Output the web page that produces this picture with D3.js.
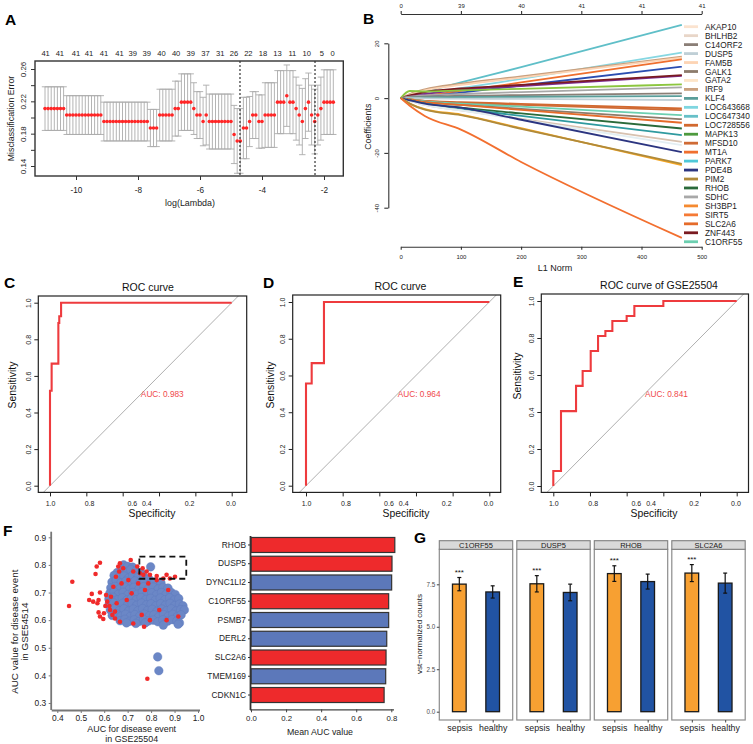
<!DOCTYPE html>
<html><head><meta charset="utf-8">
<script src="https://cdn.jsdelivr.net/npm/d3@7"></script>
<style>
body{margin:0;background:#fff;}
svg{display:block;font-family:"Liberation Sans",Arial,Helvetica,sans-serif;}
</style></head><body>
<svg id="fig" width="753" height="744"></svg>
<script>
// ---------------- DATA ----------------
// Panel A: cross-validation curve
const aLogLambda = [-11.0,-10.9,-10.8,-10.7,-10.6,-10.5,-10.4,-10.3,-10.2,-10.1,-10.0,-9.9,-9.8,-9.7,-9.6,-9.5,-9.4,-9.3,-9.2,-9.1,-9.0,-8.9,-8.8,-8.7,-8.6,-8.5,-8.4,-8.3,-8.2,-8.1,-8.0,-7.9,-7.8,-7.7,-7.6,-7.5,-7.4,-7.3,-7.2,-7.1,-7.0,-6.9,-6.8,-6.7,-6.6,-6.5,-6.4,-6.3,-6.2,-6.1,-6.0,-5.9,-5.8,-5.7,-5.6,-5.5,-5.4,-5.3,-5.2,-5.1,-5.0,-4.9,-4.8,-4.7,-4.6,-4.5,-4.4,-4.3,-4.2,-4.1,-4.0,-3.9,-3.8,-3.7,-3.6,-3.5,-3.4,-3.3,-3.2,-3.1,-3.0,-2.9,-2.8,-2.7,-2.6,-2.5,-2.4,-2.3,-2.2,-2.1,-2.0,-1.9,-1.8,-1.7];
const aCvm = [0.211,0.211,0.211,0.211,0.211,0.211,0.211,
 0.203,0.203,0.203,0.203,0.203,0.203,0.203,0.203,0.203,0.203,0.203,0.203,
 0.195,0.195,0.195,0.195,0.195,0.195,0.195,0.195,0.195,0.195,0.195,0.195,0.195,0.195,0.195,
 0.187,0.187,0.187,
 0.203,0.203,0.203,0.203,0.203,
 0.211,0.211,
 0.219,0.219,0.219,0.219,
 0.211,0.203,0.203,0.195,0.203,
 0.195,0.195,0.195,0.195,0.195,0.195,0.195,0.195,
 0.179,0.171,0.171,0.187,0.187,0.195,0.203,0.203,0.195,0.195,
 0.203,0.203,0.203,0.203,
 0.219,0.219,0.219,0.227,0.219,0.219,
 0.211,0.203,0.195,0.211,0.219,0.203,0.195,0.203,0.211,
 0.219,0.219,0.219,0.219];
const aCvsd = [0.027,0.027,0.027,0.027,0.027,0.027,0.027,
 0.024,0.024,0.024,0.024,0.024,0.024,0.024,0.024,0.024,0.024,0.024,0.024,
 0.024,0.024,0.024,0.024,0.024,0.024,0.024,0.024,0.024,0.024,0.024,0.024,0.024,0.024,0.024,
 0.023,0.023,0.023,
 0.032,0.032,0.032,0.032,0.032,
 0.034,0.034,
 0.035,0.035,0.035,0.035,
 0.032,0.029,0.029,0.030,0.037,
 0.034,0.034,0.034,0.034,0.034,0.034,0.034,0.034,
 0.036,0.040,0.040,0.038,0.038,0.031,0.029,0.029,0.033,0.033,
 0.040,0.040,0.040,0.040,
 0.039,0.039,0.039,0.038,0.039,0.039,
 0.039,0.037,0.041,0.037,0.036,0.037,0.040,0.037,0.039,
 0.040,0.040,0.040,0.040];
const aTopLabels = ["41","41","41","41","41","41","39","39","40","40","39","37","31","26","22","18","13","11","10","5","0"];
const aTopAt = [-10.98,-10.52,-10.0,-9.58,-9.1,-8.6,-8.17,-7.72,-7.24,-6.77,-6.3,-5.82,-5.35,-4.9,-4.44,-3.97,-3.5,-3.02,-2.56,-2.07,-1.72];
const aLambdaLines = [-4.71, -2.29];
const aXTicks = [-10,-8,-6,-4,-2];
const aYTicks = [0.14,0.16,0.18,0.20,0.22,0.24,0.26];
const aYLabels = [0.14,0.18,0.22,0.26];

// Panel B: coefficient paths
const bL1Knots = [0, 15, 40, 100, 200, 467];
const bPathColors = ["#5fbfc8","#86d7e2","#c9a07e","#fdd4b4","#ef6f2e","#2b4db0","#7c2b8e","#7a1a20","#8cc63f","#a8a8a8","#8a7e76","#5a9e9a","#bfcfd6","#d2692f","#cf6b35","#6ccfb0","#8c7b6b","#e56b2a","#2a6a3a","#2f9a9f","#d8c2b0","#e3eef2","#2c3580","#f5a623","#b08a3a","#f26f2f"];
const bPathValues = [
 [0, 0.9, 2.3, 5.7, 11.3, 26.7],
 [0, 0.6, 1.4, 3.6, 7.0, 16.6],
 [0, 1.5, 3.2, 5.3, 7.9, 15.1],
 [0, 1.2, 2.8, 4.8, 7.5, 14.8],
 [0, 0.3, 0.9, 2.6, 5.7, 14.2],
 [0, 0.2, 0.6, 2.0, 4.6, 11.5],
 [0, 0.6, 1.5, 3.0, 4.4, 8.1],
 [0, 1.0, 2.2, 3.5, 4.8, 8.4],
 [0, 2.6, 2.4, 2.8, 3.4, 5.0],
 [0, 0.5, 1.0, 1.5, 2.2, 3.9],
 [0, 0.3, 0.5, 0.8, 1.1, 1.7],
 [0, 0.2, 0.3, 0.4, 0.5, 0.7],
 [0, 0.0, -0.1, -0.2, -0.3, -0.7],
 [0, -0.5, -1.0, -1.5, -2.1, -3.8],
 [0, -0.5, -1.0, -1.8, -2.5, -4.4],
 [0, -0.5, -1.2, -2.0, -3.1, -6.2],
 [0, -0.6, -1.5, -2.5, -3.9, -7.7],
 [0, -0.5, -1.5, -2.5, -4.3, -9.0],
 [0, -0.8, -2.0, -3.5, -5.6, -11.1],
 [0, -0.8, -2.0, -3.8, -6.5, -13.5],
 [0, -1.0, -2.5, -4.5, -7.6, -16.0],
 [0, -1.0, -2.5, -4.5, -7.9, -17.2],
 [0, -0.8, -2.0, -3.5, -7.9, -19.7],
 [0, -2.0, -4.0, -6.0, -11.0, -24.5],
 [0, -2.0, -4.2, -6.2, -11.2, -24.0],
 [0, -2.8, -6.5, -11.5, -23.3, -51.0]
];
const bLegendGenes = ["AKAP10","BHLHB2","C14ORF2","DUSP5","FAM5B","GALK1","GATA2","IRF9","KLF4","LOC643668","LOC647340","LOC728556","MAPK13","MFSD10","MT1A","PARK7","PDE4B","PIM2","RHOB","SDHC","SH3BP1","SIRT5","SLC2A6","ZNF443","C1ORF55"];
const bLegendColors = ["#fbe3cf","#e8d6c8","#8a7e76","#bfcfd6","#fdd4b4","#8c7b6b","#fde5c8","#c9a07e","#5a9e9a","#7fd6e0","#67c0c8","#d2692f","#4e9a3e","#cf6b35","#f07030","#4fc8d8","#2c3580","#b08a3a","#2a6a3a","#a8a8a8","#f58a30","#f57a35","#e56b2a","#7a1a20","#6ccfb0"];
const bXTicks = [0,100,200,300,400,500];
const bTopLabels = ["0","39","40","41","41","41"];
const bYTicks = [20,0,-20,-40];

// Panels C, D, E: ROC curves (specificity, sensitivity)
const rocC = [[1,0],[1,0.519],[0.991,0.519],[0.991,0.667],[0.954,0.667],[0.954,0.889],[0.949,0.889],[0.949,0.926],[0.939,0.926],[0.939,1],[0,1]];
const rocD = [[1,0],[1,0.556],[0.969,0.556],[0.969,0.667],[0.902,0.667],[0.902,1],[0,1]];
const rocE = [[1,0],[1,0.081],[0.958,0.081],[0.958,0.405],[0.876,0.405],[0.876,0.541],[0.84,0.541],[0.84,0.622],[0.796,0.622],[0.796,0.730],[0.756,0.730],[0.756,0.811],[0.716,0.811],[0.716,0.838],[0.678,0.838],[0.678,0.892],[0.600,0.892],[0.600,0.919],[0.558,0.919],[0.558,0.973],[0.40,0.973],[0.40,1],[0,1]];
const rocAUC = ["AUC: 0.983","AUC: 0.964","AUC: 0.841"];
const rocTitles = ["ROC curve","ROC curve","ROC curve of GSE25504"];
const rocTicks = [1.0,0.8,0.6,0.4,0.2,0.0];
const rocTickLabelAt = [1.0,0.785,0.55,0.47,0.235,0.007];

// Panel F left: scatter of AUCs (GSE25504, GSE54514)
const fBlue = [[0.683,0.800],[0.700,0.795],[0.721,0.792],[0.798,0.793],
 [0.655,0.772],[0.676,0.781],[0.695,0.776],[0.713,0.783],[0.735,0.778],[0.757,0.772],
 [0.642,0.762],[0.662,0.755],[0.684,0.760],[0.703,0.752],[0.722,0.763],[0.744,0.755],[0.768,0.758],[0.790,0.750],
 [0.633,0.738],[0.651,0.744],[0.671,0.735],[0.692,0.741],[0.711,0.733],[0.731,0.742],[0.752,0.736],[0.773,0.740],[0.795,0.732],[0.815,0.738],[0.842,0.735],
 [0.628,0.717],[0.647,0.722],[0.667,0.714],[0.688,0.720],[0.707,0.712],[0.727,0.719],[0.748,0.713],[0.769,0.721],[0.789,0.714],[0.809,0.720],[0.830,0.713],[0.851,0.719],[0.872,0.716],
 [0.624,0.697],[0.642,0.703],[0.661,0.694],[0.681,0.701],[0.702,0.693],[0.722,0.700],[0.742,0.694],[0.762,0.702],[0.783,0.695],[0.803,0.699],[0.823,0.692],[0.844,0.700],[0.864,0.694],[0.885,0.701],[0.903,0.693],
 [0.620,0.677],[0.638,0.683],[0.657,0.674],[0.677,0.681],[0.697,0.673],[0.717,0.680],[0.737,0.674],[0.757,0.682],[0.778,0.675],[0.798,0.679],[0.818,0.672],[0.839,0.680],[0.859,0.674],[0.879,0.681],[0.899,0.673],[0.918,0.678],
 [0.621,0.657],[0.640,0.663],[0.659,0.654],[0.679,0.661],[0.699,0.653],[0.719,0.660],[0.739,0.654],[0.759,0.662],[0.780,0.655],[0.800,0.659],[0.820,0.652],[0.841,0.660],[0.861,0.654],[0.881,0.661],[0.901,0.653],[0.921,0.658],[0.936,0.652],
 [0.626,0.637],[0.645,0.643],[0.664,0.634],[0.684,0.641],[0.704,0.633],[0.724,0.640],[0.744,0.634],[0.764,0.642],[0.785,0.635],[0.805,0.639],[0.825,0.632],[0.846,0.640],[0.866,0.634],[0.886,0.641],[0.906,0.633],[0.926,0.638],[0.942,0.637],
 [0.634,0.617],[0.652,0.623],[0.671,0.614],[0.691,0.621],[0.711,0.613],[0.731,0.620],[0.751,0.614],[0.771,0.622],[0.792,0.615],[0.812,0.619],[0.832,0.612],[0.853,0.620],[0.873,0.614],[0.893,0.621],[0.912,0.613],[0.928,0.619],
 [0.668,0.598],[0.688,0.603],[0.708,0.596],[0.728,0.601],[0.748,0.595],[0.768,0.602],[0.789,0.597],[0.809,0.600],[0.829,0.594],[0.850,0.601],[0.870,0.596],[0.890,0.602],[0.910,0.597],[0.921,0.590],
 [0.695,0.590],[0.735,0.588],[0.775,0.590],[0.852,0.582],[0.915,0.585],
 [0.828,0.467],[0.833,0.417]];
const fRed = [[0.450,0.651],[0.464,0.739],[0.536,0.673],[0.553,0.667],[0.547,0.695],[0.563,0.767],[0.568,0.794],[0.582,0.808],[0.582,0.700],[0.576,0.673],[0.571,0.661],[0.576,0.628],[0.582,0.613],[0.596,0.604],[0.599,0.625],[0.605,0.651],[0.608,0.691],[0.613,0.667],[0.622,0.651],[0.625,0.637],[0.629,0.685],[0.639,0.721],[0.635,0.619],[0.646,0.631],[0.650,0.757],[0.660,0.794],[0.667,0.806],[0.664,0.776],[0.681,0.788],[0.713,0.818],[0.724,0.776],[0.741,0.794],[0.753,0.770],[0.764,0.788],[0.767,0.764],[0.781,0.776],[0.795,0.764],[0.824,0.760],[0.852,0.751],[0.866,0.764],[0.880,0.751],[0.902,0.757],[0.824,0.745],[0.784,0.388],[0.770,0.576],[0.724,0.588],[0.667,0.594],[0.696,0.673],[0.717,0.697],[0.774,0.709],[0.835,0.637],[0.873,0.709],[0.916,0.613],[0.795,0.600],[0.866,0.600],[0.674,0.733],[0.703,0.745],[0.745,0.733],[0.788,0.733],[0.653,0.661],[0.760,0.619],[0.646,0.606]];
const fBoxX = [0.75, 0.95];
const fBoxY = [0.75, 0.83];
const fXTicks = [0.4,0.5,0.6,0.7,0.8,0.9,1.0];
const fYTicks = [0.3,0.4,0.5,0.6,0.7,0.8,0.9];

// Panel F right: mean AUC bars
const fBarGenes = ["RHOB","DUSP5","DYNC1LI2","C1ORF55","PSMB7","DERL2","SLC2A6","TMEM169","CDKN1C"];
const fBarValues = [0.820,0.804,0.802,0.785,0.785,0.774,0.770,0.768,0.759];
const fBarGroup = ["red","red","blue","red","blue","blue","red","blue","red"];
const fBarTicks = [0.0,0.2,0.4,0.6,0.8];

// Panel G: expression bars
const gGenes = ["C1ORF55","DUSP5","RHOB","SLC2A6"];
const gGroups = ["sepsis","healthy"];
const gSepsisMean = [7.51,7.53,8.13,8.16];
const gSepsisSd = [0.39,0.48,0.46,0.50];
const gHealthyMean = [7.05,7.02,7.66,7.57];
const gHealthySd = [0.36,0.49,0.44,0.59];
const gSignif = ["***","***","***","***"];
const gYTicks = [0,2.5,5,7.5];

// ---------------- DRAWING ----------------
const FONT = '"Liberation Sans", Arial, Helvetica, sans-serif';
const svg = d3.select("#fig");

function T(x, y, s, size, o = {}) {
  const t = svg.append("text").attr("x", x).attr("y", y).text(s)
    .attr("font-size", size).attr("fill", o.fill || "#000")
    .attr("text-anchor", o.anchor || "middle");
  if (o.bold) t.attr("font-weight", "bold");
  if (o.rot) t.attr("transform", `rotate(${o.rot},${x},${y})`);
  return t;
}
function styleAxis(g, size, textColor, lineColor, lw) {
  g.attr("font-family", FONT).attr("font-size", size);
  g.selectAll(".tick line").attr("stroke", lineColor).attr("stroke-width", lw || 1);
  g.selectAll(".tick text").attr("fill", textColor);
  g.select(".domain").attr("stroke", lineColor).attr("stroke-width", lw || 1);
}
function rotLabels(g, off) {
  g.selectAll(".tick text").attr("transform", "rotate(-90)")
    .attr("x", 0).attr("y", off).attr("dy", 0).attr("text-anchor", "middle");
}

// Panel letters
[["A",5,25],["B",363,24],["C",4,288],["D",263,288],["E",513,287],["F",3,536],["G",414,543]]
  .forEach(([s,x,y]) => T(x, y, s, 15.5, {bold: true, anchor: "start"}));

// ===== Panel A =====
{
  const X = d3.scaleLinear().domain([-10, -2]).range([76, 324]);
  const Y = d3.scaleLinear().domain([0.26, 0.14]).range([69, 166]);
  const box = {x0: 35, x1: 343.3, y0: 61, y1: 176};
  const g = svg.append("g");
  aLogLambda.forEach((l, i) => {
    const x = X(l), yt = Y(aCvm[i] + aCvsd[i]), yb = Y(aCvm[i] - aCvsd[i]);
    g.append("line").attr("x1", x).attr("x2", x).attr("y1", yt).attr("y2", yb).attr("stroke", "#ababab").attr("stroke-width", 0.9);
    [yt, yb].forEach(yy => g.append("line").attr("x1", x - 3.2).attr("x2", x + 3.2).attr("y1", yy).attr("y2", yy).attr("stroke", "#ababab").attr("stroke-width", 0.9));
  });
  g.selectAll("circle").data(aLogLambda).join("circle")
    .attr("cx", d => X(d)).attr("cy", (d, i) => Y(aCvm[i])).attr("r", 1.8).attr("fill", "#ff2626");
  aLambdaLines.forEach(v => g.append("line").attr("x1", X(v)).attr("x2", X(v)).attr("y1", box.y0).attr("y2", box.y1)
    .attr("stroke", "#222").attr("stroke-width", 1.1).attr("stroke-dasharray", "2,2"));
  g.append("rect").attr("x", box.x0).attr("y", box.y0).attr("width", box.x1 - box.x0).attr("height", box.y1 - box.y0)
    .attr("fill", "none").attr("stroke", "#333").attr("stroke-width", 1.4);
  const xa = svg.append("g").attr("transform", `translate(0,${box.y1})`)
    .call(d3.axisBottom(X).tickValues(aXTicks).tickSize(4).tickPadding(7.5).tickFormat(d => String(d)));
  xa.select(".domain").remove();
  styleAxis(xa, 8.2, "#222", "#333");
  const ya = svg.append("g").attr("transform", `translate(${box.x0},0)`)
    .call(d3.axisLeft(Y).tickValues(aYTicks).tickSize(4).tickFormat(d => aYLabels.some(v => Math.abs(v - d) < 1e-9) ? d.toFixed(2) : ""));
  ya.select(".domain").remove();
  styleAxis(ya, 8, "#222", "#333");
  rotLabels(ya, -8.8);
  aTopLabels.forEach((s, i) => T(X(aTopAt[i]), 55.5, s, 7.6, {fill: "#222"}));
  T(190, 206, "log(Lambda)", 8.9, {fill: "#222"});
  T(13.5, 118.5, "Misclassification Error", 8.8, {rot: -90, fill: "#222"});
}

// ===== Panel B =====
{
  const X = d3.scaleLinear().domain([0, 500]).range([400.7, 701.7]);
  const Y = d3.scaleLinear().domain([-40, 20]).range([207.7, 43.3]);
  const g = svg.append("g");
  const line = d3.line().x((d, i) => X(bL1Knots[i])).y(d => Y(d)).curve(d3.curveMonotoneX);
  bPathValues.forEach((vals, k) => g.append("path").attr("d", line(vals)).attr("fill", "none")
    .attr("stroke", bPathColors[k]).attr("stroke-width", 1.8));
  const xb = svg.append("g").attr("transform", "translate(0,246.7)")
    .call(d3.axisBottom(X).tickValues(bXTicks).tickSize(3).tickSizeOuter(0).tickPadding(4.8));
  styleAxis(xb, 6, "#222", "#333", 1.1);
  const xt = svg.append("g").attr("transform", "translate(0,14)")
    .call(d3.axisTop(X).tickValues(bXTicks).tickSize(3).tickSizeOuter(0).tickPadding(2.8).tickFormat((d, i) => bTopLabels[i]));
  styleAxis(xt, 6, "#222", "#333", 1.1);
  const yl = svg.append("g").attr("transform", "translate(388.3,0)")
    .call(d3.axisLeft(Y).tickValues(bYTicks).tickSize(4).tickSizeOuter(0).tickFormat(d => String(d)));
  styleAxis(yl, 6, "#222", "#333", 1.1);
  rotLabels(yl, -9);
  T(555, 271, "L1 Norm", 9, {fill: "#222"});
  T(371.5, 126.7, "Coefficients", 8.9, {rot: -90, fill: "#222"});
  const lg = svg.append("g");
  bLegendGenes.forEach((s, i) => {
    const y = 26.7 + i * 8.96;
    lg.append("line").attr("x1", 684).attr("x2", 698).attr("y1", y).attr("y2", y)
      .attr("stroke", bLegendColors[i]).attr("stroke-width", 2.8);
    lg.append("text").attr("x", 705).attr("y", y + 3).attr("font-size", 8.3).attr("fill", "#222").text(s);
  });
}

// ===== Panels C, D, E =====
function drawROC(cfg, pts, idx) {
  const X = d3.scaleLinear().domain([1, 0]).range([cfg.sx0, cfg.sx1]);
  const Y = d3.scaleLinear().domain([0, 1]).range([cfg.sy0, cfg.sy1]);
  const id = "clipRoc" + idx;
  svg.append("clipPath").attr("id", id).append("rect")
    .attr("x", cfg.bx0).attr("y", cfg.by0).attr("width", cfg.bx1 - cfg.bx0).attr("height", cfg.by1 - cfg.by0);
  const g = svg.append("g");
  g.append("line").attr("clip-path", `url(#${id})`)
    .attr("x1", X(1.2)).attr("y1", Y(-0.2)).attr("x2", X(-0.2)).attr("y2", Y(1.2))
    .attr("stroke", "#9a9a9a").attr("stroke-width", 0.8);
  g.append("path").datum(pts).attr("d", d3.line().x(d => X(d[0])).y(d => Y(d[1])))
    .attr("fill", "none").attr("stroke", "#ee3b3e").attr("stroke-width", 2.1);
  g.append("rect").attr("x", cfg.bx0).attr("y", cfg.by0).attr("width", cfg.bx1 - cfg.bx0).attr("height", cfg.by1 - cfg.by0)
    .attr("fill", "none").attr("stroke", "#222").attr("stroke-width", 1.2);
  const xa = svg.append("g").attr("transform", `translate(0,${cfg.by1})`)
    .call(d3.axisBottom(X).tickValues(rocTicks).tickSize(4).tickPadding(4.3).tickFormat(d => d.toFixed(1)));
  xa.select(".domain").remove();
  styleAxis(xa, 7, "#222", "#222");
  xa.selectAll(".tick text").attr("dx", (d, i) => X(rocTickLabelAt[i]) - X(d));
  const ya = svg.append("g").attr("transform", `translate(${cfg.bx0},0)`)
    .call(d3.axisLeft(Y).tickValues([0, 0.2, 0.4, 0.6, 0.8, 1.0]).tickSize(4).tickFormat(d => d.toFixed(1)));
  ya.select(".domain").remove();
  styleAxis(ya, 7, "#222", "#222");
  rotLabels(ya, -7.5);
  T(cfg.titleX, cfg.titleY, rocTitles[idx], 10.5, {fill: "#111"});
  T(cfg.specX, 517, "Specificity", 10.4, {fill: "#111"});
  T(cfg.sensX, cfg.sensY, "Sensitivity", 10.4, {rot: -90, fill: "#111"});
  T(X(0.5), Y(0.5), rocAUC[idx], 8.3, {anchor: "start", fill: "#f0494b"}).attr("dominant-baseline", "central");
}
drawROC({bx0: 38.3, bx1: 246.7, by0: 296, by1: 492.4, sx0: 50, sx1: 231.7, sy0: 485.7, sy1: 302.7,
  titleX: 148, titleY: 290.5, specX: 152, sensX: 15.5, sensY: 385}, rocC, 0);
drawROC({bx0: 292.7, bx1: 500.7, by0: 295, by1: 492.4, sx0: 306, sx1: 489.3, sy0: 485.7, sy1: 302,
  titleX: 400.5, titleY: 290, specX: 406, sensX: 273.5, sensY: 385}, rocD, 1);
drawROC({bx0: 541.3, bx1: 748.5, by0: 294, by1: 492.4, sx0: 553.3, sx1: 736.7, sy0: 486, sy1: 301,
  titleX: 659, titleY: 289, specX: 654, sensX: 520.5, sensY: 376}, rocE, 2);

// ===== Panel F left (scatter) =====
{
  const X = d3.scaleLinear().domain([0.4, 1.0]).range([57.3, 198]);
  const Y = d3.scaleLinear().domain([0.3, 0.9]).range([703, 537.3]);
  const g = svg.append("g");
  g.selectAll("circle.b").data(fBlue).join("circle").attr("class", "b")
    .attr("cx", d => X(d[0])).attr("cy", d => Y(d[1])).attr("r", 4.3)
    .attr("fill", "#6b87c6").attr("stroke", "#5d7abd").attr("stroke-width", 0.4);
  g.selectAll("circle.r").data(fRed).join("circle").attr("class", "r")
    .attr("cx", d => X(d[0])).attr("cy", d => Y(d[1])).attr("r", 2.3).attr("fill", "#f02a2a");
  g.append("rect").attr("x", X(fBoxX[0])).attr("y", Y(fBoxY[1])).attr("width", X(fBoxX[1]) - X(fBoxX[0]))
    .attr("height", Y(fBoxY[0]) - Y(fBoxY[1])).attr("fill", "none").attr("stroke", "#111")
    .attr("stroke-width", 1.8).attr("stroke-dasharray", "6,4");
  const xa = svg.append("g").attr("transform", "translate(0,710)")
    .call(d3.axisBottom(X).tickValues(fXTicks).tickSize(3).tickPadding(2.3).tickSizeOuter(0).tickFormat(d3.format(".1f")));
  xa.select(".domain").attr("d", "M51.7,0.5H200");
  styleAxis(xa, 8.4, "#222", "#777", 1.8);
  xa.selectAll(".tick line").attr("stroke-width", 1);
  const ya = svg.append("g").attr("transform", "translate(51.7,0)")
    .call(d3.axisLeft(Y).tickValues(fYTicks).tickSize(3).tickPadding(2.5).tickSizeOuter(0).tickFormat(d3.format(".1f")));
  ya.select(".domain").attr("d", "M-0.5,531.7V710");
  styleAxis(ya, 8.4, "#222", "#777", 1.8);
  ya.selectAll(".tick line").attr("stroke-width", 1);
  T(131.7, 731.5, "AUC for disease event", 8.9, {fill: "#222"});
  T(131.7, 741.5, "in GSE25504", 8.9, {fill: "#222"});
  T(18.5, 631.7, "AUC value for disease event", 9.8, {rot: -90, fill: "#222"});
  T(28.5, 631.7, "in GSE54514", 9.8, {rot: -90, fill: "#222"});
}

// ===== Panel F right (bars) =====
{
  const X = d3.scaleLinear().domain([0, 0.8]).range([251, 391.3]);
  const Y = d3.scaleBand().domain(fBarGenes).range([535.6, 704.4]).paddingInner(0.2).paddingOuter(0.1);
  const g = svg.append("g");
  g.selectAll("rect").data(fBarGenes).join("rect")
    .attr("x", X(0)).attr("y", d => Y(d)).attr("height", Y.bandwidth())
    .attr("width", (d, i) => X(fBarValues[i]) - X(0))
    .attr("fill", (d, i) => fBarGroup[i] === "red" ? "#ee2a2c" : "#5c78ba")
    .attr("stroke", "#333").attr("stroke-width", 1.2);
  const ya = svg.append("g").attr("transform", "translate(251,0)")
    .call(d3.axisLeft(Y).tickSize(3).tickPadding(2).tickSizeOuter(0));
  ya.select(".domain").attr("d", "M-0.5,536V710");
  styleAxis(ya, 8.4, "#222", "#333", 1.8);
  ya.selectAll(".tick line").attr("stroke-width", 1);
  const xa = svg.append("g").attr("transform", "translate(0,709.3)")
    .call(d3.axisBottom(X).tickValues(fBarTicks).tickSize(3).tickPadding(2.9).tickSizeOuter(0).tickFormat(d3.format(".1f")));
  xa.select(".domain").attr("d", "M250,0.5H394");
  styleAxis(xa, 7.8, "#222", "#444", 1.3);
  xa.selectAll(".tick line").attr("stroke-width", 1);
  T(320, 735, "Mean AUC value", 8.8, {fill: "#222"});
}

// ===== Panel G =====
{
  const Y = d3.scaleLinear().domain([0, 7.5]).range([711.7, 584.3]);
  const pW = 73.4, gap = 4.1, x0 = 439.3, stripTop = 540.7, stripBot = 549.3, pBot = 720;
  gGenes.forEach((gene, k) => {
    const px = x0 + k * (pW + gap);
    const X = d3.scalePoint().domain(gGroups).range([px, px + pW]).padding(0.6);
    const step = X.step();
    const bw = step * 0.41;
    const g = svg.append("g");
    g.append("rect").attr("x", px).attr("y", stripBot).attr("width", pW).attr("height", pBot - stripBot)
      .attr("fill", "#fff").attr("stroke", "#8c8c8c").attr("stroke-width", 1.2);
    const means = [gSepsisMean[k], gHealthyMean[k]];
    const sds = [gSepsisSd[k], gHealthySd[k]];
    gGroups.forEach((grp, j) => {
      const cx = X(grp);
      g.append("rect").attr("x", cx - bw / 2).attr("y", Y(means[j])).attr("width", bw)
        .attr("height", Y(0) - Y(means[j])).attr("fill", j === 0 ? "#f7a032" : "#2153a3")
        .attr("stroke", "#1a1a1a").attr("stroke-width", 1.3);
      const yt = Y(means[j] + sds[j]), yb = Y(means[j] - sds[j]);
      g.append("line").attr("x1", cx).attr("x2", cx).attr("y1", yt).attr("y2", yb).attr("stroke", "#111").attr("stroke-width", 1.2);
      [yt, yb].forEach(yy => g.append("line").attr("x1", cx - 2).attr("x2", cx + 2).attr("y1", yy).attr("y2", yy).attr("stroke", "#111").attr("stroke-width", 1.2));
    });
    T(X("sepsis"), Y(gSepsisMean[k] + gSepsisSd[k] + 0.15), gSignif[k], 8, {fill: "#111"});
    g.append("rect").attr("x", px).attr("y", stripTop).attr("width", pW).attr("height", stripBot - stripTop)
      .attr("fill", "#d9d9d9").attr("stroke", "#7f7f7f").attr("stroke-width", 1.1);
    T(px + pW / 2, 547.9, gene, 7.5, {fill: "#1a1a1a"});
    const xa = svg.append("g").attr("transform", `translate(0,${pBot})`)
      .call(d3.axisBottom(X).tickSize(2.5).tickPadding(2.6).tickSizeOuter(0));
    xa.select(".domain").remove();
    styleAxis(xa, 8.8, "#1a1a1a", "#444");
    if (k === 0) {
      const ya = svg.append("g").attr("transform", `translate(${px},0)`)
        .call(d3.axisLeft(Y).tickValues(gYTicks).tickSize(2.5).tickPadding(1.5).tickFormat(d3.format(".1f")));
      ya.select(".domain").remove();
      styleAxis(ya, 6.3, "#4d4d4d", "#444");
    }
  });
  T(422, 634, "vst\u2212normalized counts", 8, {rot: -90, fill: "#1a1a1a"});
}
</script>
</body></html>
